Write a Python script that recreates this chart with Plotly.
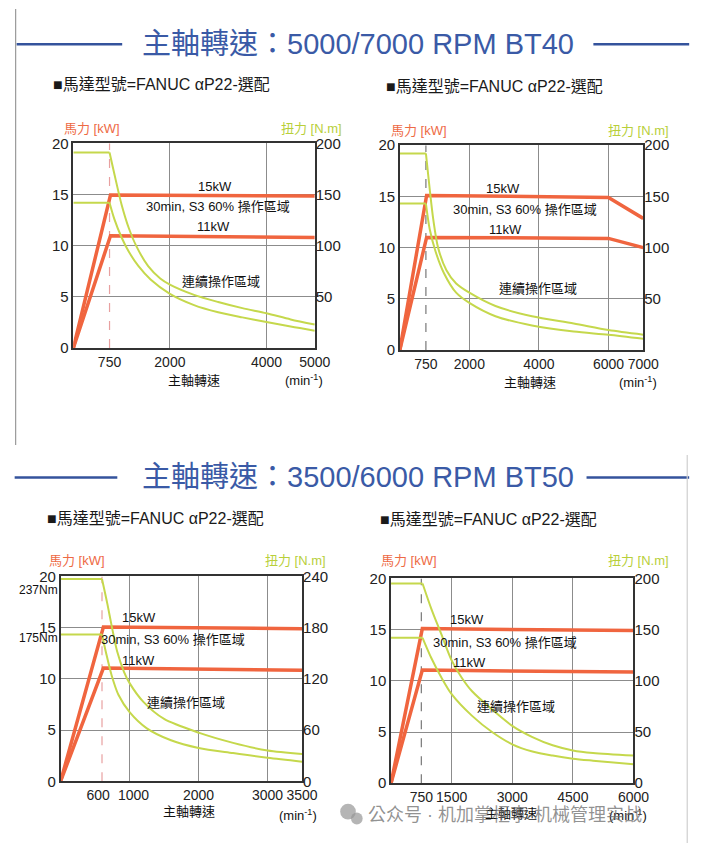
import plotly.graph_objects as go

W, H = 713, 851
FONT = "Liberation Sans, Noto Sans CJK TC, sans-serif"
RED = "#f0653f"
GREEN = "#c5d84c"
BLUE = "#3a5aa6"
GRID = "#8c8c8c"
FRAME = "#333333"
NB = "\u00a0"

# ---------------- data ----------------
titles = ["主軸轉速：5000/7000 RPM BT40", "主軸轉速：3500/6000 RPM BT50"]
subtitle = "■馬達型號=FANUC αP22-選配"
power_label = "馬力 [kW]"
torque_label = "扭力 [N.m]"
speed_label = "主軸轉速"
unit_label = "(min<sup>-1</sup>)"
zone_labels = ["15kW", "30min, S3 60% 操作區域", "11kW", "連續操作區域"]

# Panel 1: BT40 5000 rpm
p1_speed_15 = [0, 770, 5000]
p1_kw_15 = [0, 14.95, 14.85]
p1_speed_11 = [0, 770, 5000]
p1_kw_11 = [0, 10.97, 10.8]
p1_speed_s3 = [0, 750, 850, 1000, 1150, 1300, 1550, 1800, 2000, 2500, 3000, 3500, 4000, 4500, 5000]
p1_tq_s3 = [191, 191, 170, 140, 117, 100, 80, 68, 62, 52, 45, 39, 34, 28, 23]
p1_speed_cont = [0, 750, 850, 1000, 1150, 1350, 1600, 2000, 2500, 3000, 3500, 4000, 4500, 5000]
p1_tq_cont = [142, 142, 126, 108, 94, 80, 67, 53, 42, 35, 30, 25.5, 21, 17]
p1_base = 750
p1_xticks = [750, 2000, 4000, 5000]
p1_xticktext = ["750", "2000", "4000", "5000"]
p1_xgrid = [2000, 4000]
p1_rticks = [50, 100, 150, 200]

# Panel 2: BT40 7000 rpm
p2_speed_15 = [0, 770, 6000, 7000]
p2_kw_15 = [0, 15.1, 14.9, 12.85]
p2_speed_11 = [0, 770, 6000, 7000]
p2_kw_11 = [0, 11.0, 10.9, 10.0]
p2_speed_s3 = [0, 750, 860, 960, 1100, 1340, 1620, 2000, 2750, 3800, 5000, 6000, 7000]
p2_tq_s3 = [192, 192, 157, 128, 100, 78, 65, 56, 43, 33, 26, 19.5, 15]
p2_speed_cont = [0, 750, 860, 1030, 1270, 1620, 2000, 2750, 3800, 5000, 6000, 7000]
p2_tq_cont = [143, 143, 118, 96, 75, 56, 46, 33, 24, 18, 15, 11]
p2_base = 750
p2_xticks = [750, 2000, 4000, 6000, 7000]
p2_xticktext = ["750", "2000", "4000", "6000", "7000"]
p2_xgrid = [2000, 4000, 6000]
p2_rticks = [50, 100, 150, 200]

# Panel 3: BT50 3500 rpm
p3_speed_15 = [0, 620, 3500]
p3_kw_15 = [0, 15.05, 14.9]
p3_speed_11 = [0, 620, 3500]
p3_kw_11 = [0, 11.05, 10.85]
p3_speed_s3 = [0, 600, 680, 740, 820, 920, 1000, 1200, 1500, 2000, 2500, 3000, 3500]
p3_tq_s3 = [237, 237, 207, 182, 152, 128, 115, 93, 73, 57, 45, 36, 32]
p3_speed_cont = [0, 600, 660, 740, 840, 1000, 1250, 1600, 2000, 2500, 3000, 3500]
p3_tq_cont = [172, 172, 150, 124, 101, 81, 62, 48, 39, 33, 27.5, 23]
p3_base = 600
p3_xticks = [600, 1000, 2000, 3000, 3500]
p3_xticktext = ["600" + NB * 2, NB * 2 + "1000", "2000", "3000", "3500"]
p3_xgrid = [1000, 2000, 3000]
p3_rticks = [0, 60, 120, 180, 240]

# Panel 4: BT50 6000 rpm
p4_speed_15 = [0, 775, 6000]
p4_kw_15 = [0, 15.1, 14.9]
p4_speed_11 = [0, 775, 6000]
p4_kw_11 = [0, 11.05, 10.85]
p4_speed_s3 = [0, 780, 1000, 1250, 1500, 1750, 2000, 2500, 3000, 3500, 4000, 4500, 5000, 6000]
p4_tq_s3 = [195, 195, 170, 145, 120, 103, 90, 72, 56, 45, 37, 32, 29.5, 27]
p4_speed_cont = [0, 780, 1000, 1250, 1500, 2000, 2500, 3000, 3500, 4000, 4500, 5000, 6000]
p4_tq_cont = [142, 142, 122, 103, 87, 66, 50, 38, 31, 27, 24, 22, 18.5]
p4_base = 750
p4_xticks = [750, 1500, 3000, 4500, 6000]
p4_xticktext = ["750", "1500", "3000", "4500", "6000"]
p4_xgrid = [1500, 3000, 4500]
p4_rticks = [0, 50, 100, 150, 200]

kw_ticks = [0, 5, 10, 15, 20]
p3_torque_marks = ["237Nm", "175Nm"]

# ---------------- layout helpers ----------------
def px(x, y):
    return x / W, 1 - y / H

panels = [
    dict(box=(75, 137, 322, 346), s15=p1_speed_15, k15=p1_kw_15, s11=p1_speed_11, k11=p1_kw_11,
         ss3=p1_speed_s3, ts3=p1_tq_s3, sc=p1_speed_cont, tc=p1_tq_cont, base=p1_base,
         xt=p1_xticks, xtt=p1_xticktext, xg=p1_xgrid, rt=p1_rticks, rmax=200, basecol="#e8a0a0",
         lab=[(220, 181), (223, 202), (218, 222), (226, 278)],
         sp=(198, 379), un=(332, 379), pl=(63, 122), tl=(352, 122), sub=(52, 77)),
    dict(box=(409, 139, 658, 348), s15=p2_speed_15, k15=p2_kw_15, s11=p2_speed_11, k11=p2_kw_11,
         ss3=p2_speed_s3, ts3=p2_tq_s3, sc=p2_speed_cont, tc=p2_tq_cont, base=p2_base,
         xt=p2_xticks, xtt=p2_xticktext, xg=p2_xgrid, rt=p2_rticks, rmax=200, basecol="#777777",
         lab=[(515, 183), (537, 205), (517, 225), (550, 285)],
         sp=(542, 381), un=(674, 381), pl=(398, 124), tl=(686, 124), sub=(393, 79)),
    dict(box=(62, 579, 309, 788), s15=p3_speed_15, k15=p3_kw_15, s11=p3_speed_11, k11=p3_kw_11,
         ss3=p3_speed_s3, ts3=p3_tq_s3, sc=p3_speed_cont, tc=p3_tq_cont, base=p3_base,
         xt=p3_xticks, xtt=p3_xticktext, xg=p3_xgrid, rt=p3_rticks, rmax=240, basecol="#e8a0a0",
         lab=[(142, 621), (177, 643), (142, 665), (190, 708)],
         sp=(193, 819), un=(326, 822), pl=(48, 563), tl=(336, 563), sub=(46, 520)),
    dict(box=(400, 581, 648, 790), s15=p4_speed_15, k15=p4_kw_15, s11=p4_speed_11, k11=p4_kw_11,
         ss3=p4_speed_s3, ts3=p4_tq_s3, sc=p4_speed_cont, tc=p4_tq_cont, base=p4_base,
         xt=p4_xticks, xtt=p4_xticktext, xg=p4_xgrid, rt=p4_rticks, rmax=200, basecol="#777777",
         lab=[(478, 623), (517, 646), (480, 667), (528, 712)],
         sp=(523, 821), un=(664, 822), pl=(388, 563), tl=(686, 563), sub=(387, 521)),
]

fig = go.Figure()
layout = dict(width=W, height=H, margin=dict(l=0, r=0, t=0, b=0),
              paper_bgcolor="white", plot_bgcolor="white", showlegend=False,
              font=dict(family=FONT, color="#222"))
annotations = []
shapes = []

def ann(text, x, y, size=13, color="#111", xanchor="center", yanchor="middle"):
    fx, fy = px(x, y)
    annotations.append(dict(text=text, x=fx, y=fy, xref="paper", yref="paper", showarrow=False,
                            font=dict(family=FONT, size=size, color=color),
                            xanchor=xanchor, yanchor=yanchor))

for k, p in enumerate(panels, 1):
    xa = "x" if k == 1 else f"x{k}"
    yl_n, yr_n = 2 * k - 1, 2 * k
    yl = "y" if yl_n == 1 else f"y{yl_n}"
    yr = f"y{yr_n}"
    x0, y0, x1, y1 = p["box"]
    xmax = p["xt"][-1]
    layout["xaxis" + ("" if k == 1 else str(k))] = dict(
        domain=[x0 / W, x1 / W], anchor=yl, range=[0, xmax],
        tickmode="array", tickvals=p["xt"], ticktext=p["xtt"], tickangle=0,
        showgrid=False, zeroline=False, showline=True, linecolor=FRAME, linewidth=1.5, mirror=True,
        ticks="", tickfont=dict(size=14, color="#222"),
        minor=dict(tickmode="array", tickvals=p["xg"], showgrid=True, gridcolor=GRID, gridwidth=1, ticks=""))
    layout["yaxis" + ("" if yl_n == 1 else str(yl_n))] = dict(
        domain=[1 - y1 / H, 1 - y0 / H], anchor=xa, range=[0, 20],
        tickmode="array", tickvals=kw_ticks, ticktext=[str(v) for v in kw_ticks],
        showgrid=True, gridcolor=GRID, gridwidth=1, zeroline=False,
        showline=True, linecolor=FRAME, linewidth=1.5, mirror=True, ticks="",
        tickfont=dict(size=15, color="#222"))
    layout["yaxis" + str(yr_n)] = dict(
        anchor=xa, overlaying=yl, side="right", range=[0, p["rmax"]],
        tickmode="array", tickvals=p["rt"], ticktext=[str(v) for v in p["rt"]],
        showgrid=False, zeroline=False, showline=False, ticks="",
        tickfont=dict(size=15, color="#222"))

    # base speed dashed line
    fig.add_trace(go.Scatter(x=[p["base"], p["base"]], y=[kw_ticks[0], kw_ticks[-1]], mode="lines",
                             line=dict(color=p["basecol"], width=1.2, dash="dash"),
                             xaxis=xa, yaxis=yl, hoverinfo="skip"))
    # torque curves: flat part + falling part
    for sp, tq in ((p["ss3"], p["ts3"]), (p["sc"], p["tc"])):
        fig.add_trace(go.Scatter(x=sp[:2], y=tq[:2], mode="lines",
                                 line=dict(color=GREEN, width=2), xaxis=xa, yaxis=yr))
        fig.add_trace(go.Scatter(x=sp[1:], y=tq[1:], mode="lines",
                                 line=dict(color=GREEN, width=2, shape="spline", smoothing=0.8),
                                 xaxis=xa, yaxis=yr))
    # power lines
    for sp, kw in ((p["s15"], p["k15"]), (p["s11"], p["k11"])):
        fig.add_trace(go.Scatter(x=sp, y=kw, mode="lines", line=dict(color=RED, width=3.5),
                                 xaxis=xa, yaxis=yl))

    # labels
    for txt, (lx, ly) in zip(zone_labels, p["lab"]):
        ann(txt, lx, ly, size=13)
    ann(speed_label, p["sp"][0], p["sp"][1], size=13)
    ann(unit_label, p["un"][0], p["un"][1], size=13, xanchor="right")
    ann(power_label, p["pl"][0], p["pl"][1], size=13, color="#ee6a45", xanchor="left")
    ann(torque_label, p["tl"][0], p["tl"][1], size=13, color="#b8cf3a", xanchor="right")
    ann(subtitle, p["sub"][0], p["sub"][1], size=16, color="#1a1a1a", xanchor="left")

# torque marks on panel 3
ann(p3_torque_marks[0], 61, 593, size=12, xanchor="right")
ann(p3_torque_marks[1], 61, 642, size=12, xanchor="right")

# section titles with side rules
for t, ty, l_line, r_line in ((titles[0], 36, (17, 125), (607, 705)),
                              (titles[1], 478, (15, 120), (600, 705))):
    ann(t, 366, ty, size=29, color=BLUE)
    for a, b in (l_line, r_line):
        fa, fy = px(a, ty)
        fb, _ = px(b, ty)
        shapes.append(dict(type="line", xref="paper", yref="paper", x0=fa, x1=fb, y0=fy, y1=fy,
                           line=dict(color="#34539c", width=2.5)))

# page edge rules
for (xa_, ya_, xb_, yb_, col) in ((16, 0, 16, 445, "#9a9a9a"), (703, 455, 703, 851, "#cfcfcf")):
    fa, fya = px(xa_, ya_)
    fb, fyb = px(xb_, yb_)
    shapes.append(dict(type="line", xref="paper", yref="paper", x0=fa, x1=fb, y0=fya, y1=fyb,
                       line=dict(color=col, width=1.2)))

# watermark
for cx, cy, r in ((356, 819, 8), (365, 826, 6)):
    fa, fya = px(cx - r, cy - r)
    fb, fyb = px(cx + r, cy + r)
    shapes.append(dict(type="circle", xref="paper", yref="paper", x0=fa, x1=fb, y0=fyb, y1=fya,
                       fillcolor="rgba(150,150,150,0.7)", line=dict(width=0)))
ann("公众号 · 机加掌柜李-机械管理实战", 374, 822, size=18, color="rgba(110,110,110,0.75)", xanchor="left")

layout["annotations"] = annotations
layout["shapes"] = shapes
fig.update_layout(**layout)
fig.write_html("out.html")
